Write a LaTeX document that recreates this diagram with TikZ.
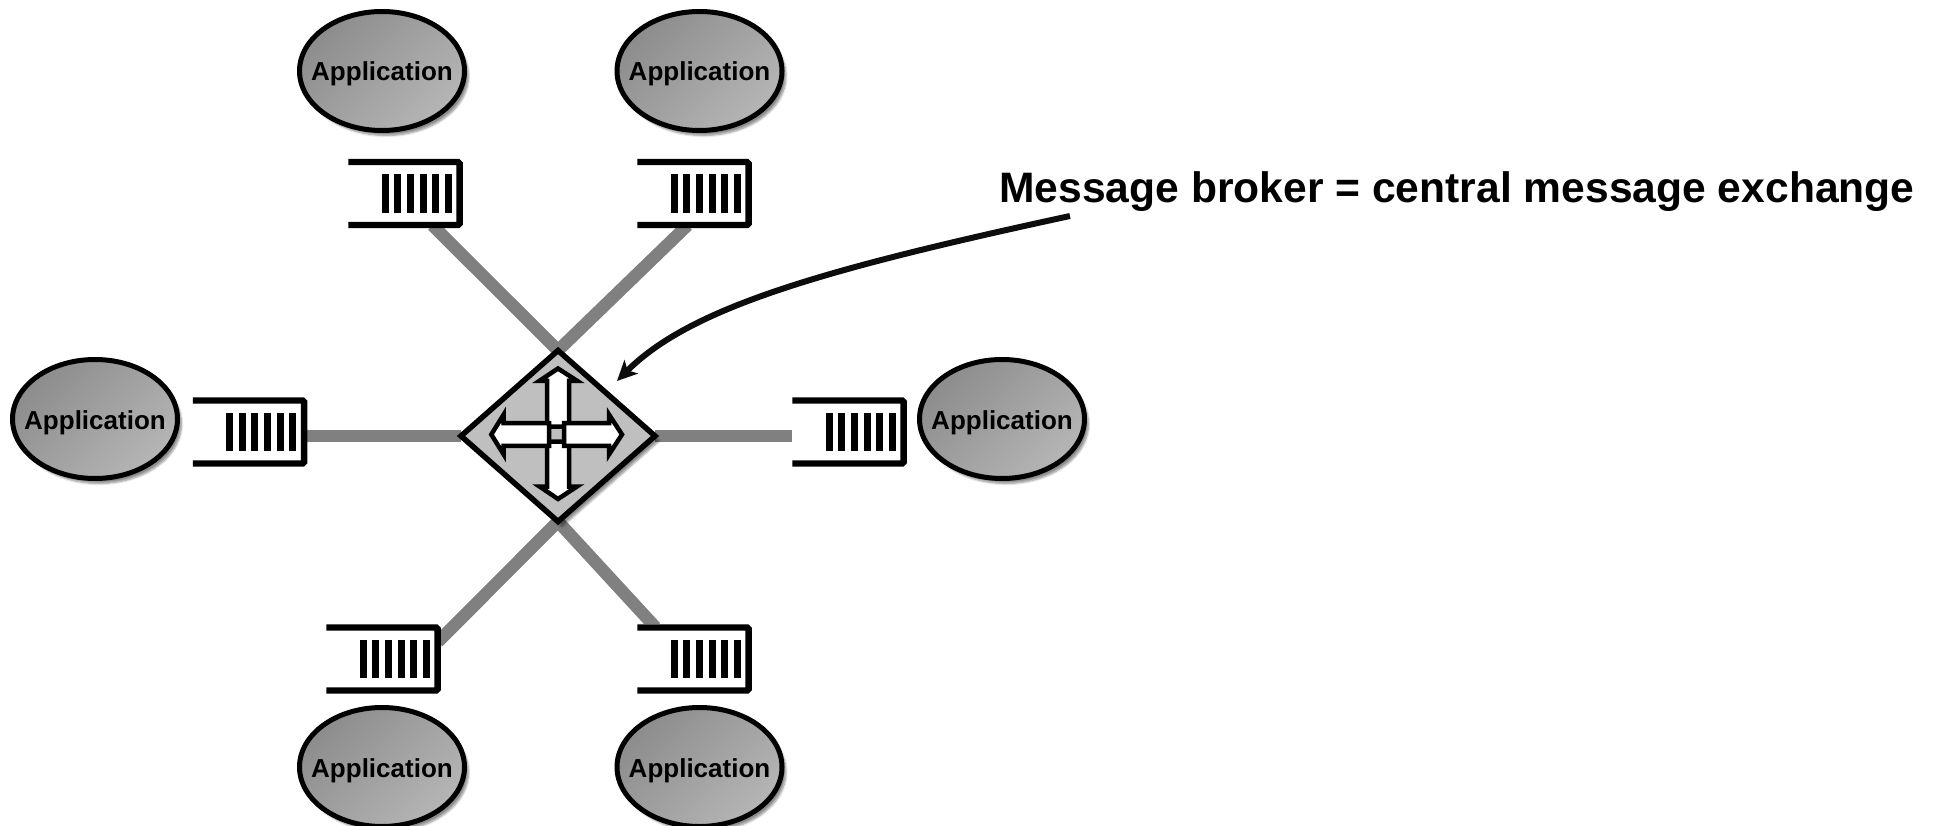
\documentclass[tikz,border=0pt]{standalone}
\usepackage{fontspec}
\setmainfont{Liberation Sans}
\usepackage{xcolor}
\usetikzlibrary{shapes.geometric,shadows.blur,backgrounds,arrows.meta}

\tikzset{
  app/.style={ellipse, draw=black, line width=5pt, minimum width=165pt, minimum height=119pt,
    inner xsep=-20pt, inner ysep=0pt, text height=25.5pt, text depth=5.5pt,
    top color=gray!90, bottom color=gray!58, shading angle=45,
    font=\fontsize{26}{30}\selectfont\bfseries,
    blur shadow={shadow xshift=4pt, shadow yshift=-5pt, shadow blur steps=6, shadow opacity=45}},
  queuebox/.style={fill=white, minimum width=114.5pt, minimum height=69.3pt, inner sep=0pt, outer sep=0pt},
  link/.style={draw=gray, line width=12.5pt},
  bigarrow/.style={fill=white, draw=black, line width=4.5pt, miter limit=10}
}

% open box with six bars
\newcommand{\queuebars}[1]{
  \draw[line width=6.3pt, rounded corners=1.5pt] ([yshift=3.15pt]#1.south west) -- ++(111.35pt,0) -- ++(0,63pt) -- ++(-111.35pt,0);
  \foreach \i in {0,...,5}
    \fill ([xshift=33.5pt+12.6pt*\i,yshift=15.5pt]#1.south west) rectangle ++(7pt,38.3pt);
}

\begin{document}
\begin{tikzpicture}[x=1pt,y=-1pt]
  \useasboundingbox (0,0) rectangle (1933,826);

  \node[app] (appTL) at (382,71) {Application};
  \node[app] (appTR) at (699.5,71) {Application};
  \node[app] (appL) at (95,419) {Application};
  \node[app] (appR) at (1002,419) {Application};
  \node[app] (appBL) at (382,767) {Application};
  \node[app] (appBR) at (699.5,767) {Application};

  \node[queuebox] (queueTL) at (405.5,193.6) {};
  \node[queuebox] (queueTR) at (694.5,193.6) {};
  \node[queuebox] (queueL) at (250,432) {};
  \node[queuebox] (queueR) at (849.5,432) {};
  \node[queuebox] (queueBL) at (383.5,659) {};
  \node[queuebox] (queueBR) at (694.5,659) {};

  \node[diamond, draw=black, fill=gray!50, line width=5.5pt, minimum width=194pt, minimum height=171pt,
    inner sep=0pt, outer sep=0pt, blur shadow={shadow xshift=4pt, shadow yshift=-5pt, shadow blur steps=6, shadow opacity=45}]
    (broker) at (558,436) {};

  \begin{pgfonlayer}{background}
    \draw[link] ([xshift=27pt,yshift=3pt]queueTL.south) -- (broker.north);
    \draw[link] ([xshift=-7pt,yshift=3pt]queueTR.south) -- (broker.north);
    \draw[link] ([yshift=-4pt]queueL.east) -- (broker.west);
    \draw[link] ([yshift=-4pt]queueR.west) -- (broker.east);
    \draw[link] ([xshift=-3pt,yshift=17pt]queueBL.east) -- (broker.south);
    \draw[link] ([xshift=-39pt,yshift=-3pt]queueBR.north) -- (broker.south);
  \end{pgfonlayer}

  \queuebars{queueTL}
  \queuebars{queueTR}
  \queuebars{queueL}
  \queuebars{queueR}
  \queuebars{queueBL}
  \queuebars{queueBR}

  % four white arrows in the broker
  \draw[bigarrow] (558,368.5) -- (577,380.8) -- (569,380.8) -- (569,426.5) -- (547.2,426.5) -- (547.2,380.8) -- (539.5,380.8) -- cycle;
  \draw[bigarrow] (558,499) -- (577,486.5) -- (569,486.5) -- (569,441.5) -- (547.2,441.5) -- (547.2,486.5) -- (539.5,486.5) -- cycle;
  \draw[bigarrow] (491.3,434.5) -- (503.7,414.5) -- (503.7,423.2) -- (549,423.2) -- (549,445.8) -- (503.7,445.8) -- (503.7,454.5) -- cycle;
  \draw[bigarrow] (622,434.5) -- (609,414.5) -- (609,423.2) -- (564,423.2) -- (564,445.8) -- (609,445.8) -- (609,454.5) -- cycle;

  \node[font=\fontsize{42.6}{48}\selectfont\bfseries, inner sep=0pt] (message) at (1457,192) {Message broker = central message exchange};
  \coordinate (lineStart) at (1070,216);
  \coordinate (lineEnd) at (617,381);
  \draw[line width=6pt, -{Stealth[length=20pt,width=19pt,inset=5pt]}, color=black!95] (lineStart) .. controls (820,270) and (690,308) .. (lineEnd);
\end{tikzpicture}
\end{document}
